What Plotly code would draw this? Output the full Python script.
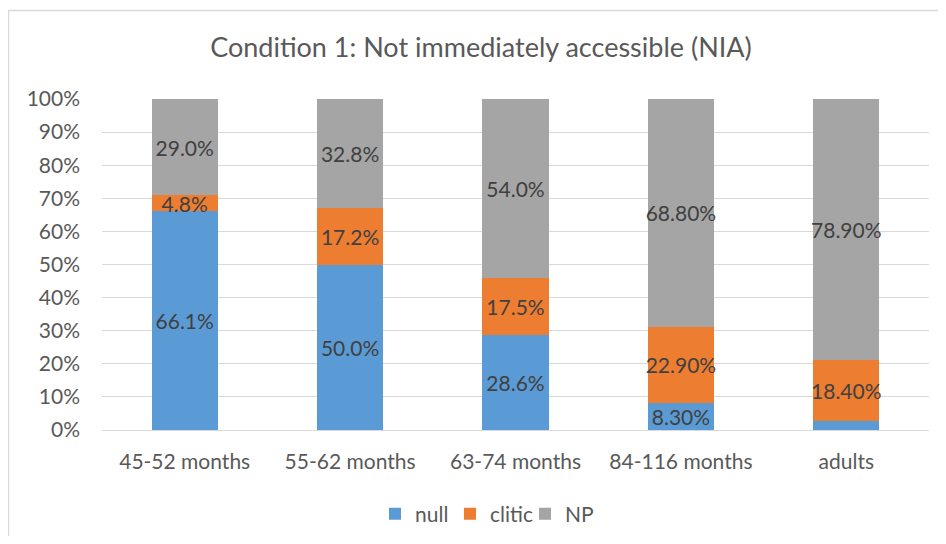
import plotly.graph_objects as go

categories = ["45-52 months", "55-62 months", "63-74 months", "84-116 months", "adults"]
null_vals = [66.1, 50.0, 28.6, 8.3, 2.7]
clitic_vals = [4.8, 17.2, 17.5, 22.9, 18.4]
np_vals = [29.0, 32.8, 54.0, 68.8, 78.9]
null_labels = ["66.1%", "50.0%", "28.6%", "8.30%", ""]
clitic_labels = ["4.8%", "17.2%", "17.5%", "22.90%", "18.40%"]
np_labels = ["29.0%", "32.8%", "54.0%", "68.80%", "78.90%"]
y_ticks = list(range(0, 101, 10))

FONT = "Lato"
OFF = 8  # page body margin
W, H = 946 - 2 * OFF, 544 - 2 * OFF
L = 102 - OFF
T = 99 - OFF
R = W - (929 - OFF)
B = H - (430 - OFF)
pw, ph = W - L - R, H - T - B

fig = go.Figure()
series = [
    ("null", null_vals, null_labels, "#5B9BD5"),
    ("clitic", clitic_vals, clitic_labels, "#ED7D31"),
    ("NP", np_vals, np_labels, "#A5A5A5"),
]
for name, vals, labels, color in series:
    fig.add_trace(go.Bar(
        name=name, x=categories, y=vals, text=labels,
        texttemplate="%{text}", textposition="inside", insidetextanchor="middle",
        textangle=0, constraintext="none",
        textfont=dict(family=FONT, size=21, color="#404040"),
        marker=dict(color=color, line=dict(width=0)),
        width=0.4, cliponaxis=False,
    ))

fig.update_layout(
    width=W, height=H,
    margin=dict(l=L, r=R, t=T, b=B, autoexpand=False),
    barmode="stack", barnorm="percent",
    paper_bgcolor="white", plot_bgcolor="white",
    font=dict(family=FONT, color="#595959"),
    uniformtext=dict(minsize=21, mode="show"),
    title=dict(text="Condition 1: Not immediately accessible (NIA)",
               x=(481 - OFF) / W, xref="container", xanchor="center",
               y=1 - (48 - OFF) / H, yref="container", yanchor="middle",
               font=dict(family=FONT, size=27, color="#595959")),
    showlegend=True,
    legend=dict(orientation="h", x=(375 - 102) / pw, xanchor="left",
                y=1 - (514 - OFF) / H, yref="container", yanchor="middle",
                font=dict(family=FONT, size=21, color="#595959"),
                itemwidth=30, entrywidth=30, entrywidthmode="pixels",
                traceorder="normal"),
    shapes=[dict(type="rect", xref="paper", yref="paper",
                 x0=(8 - 102 + 0.5) / pw, x1=1.2, y0=-0.6, y1=(430 - 10 - 0.5) / ph,
                 line=dict(color="#D9D9D9", width=1.5), layer="below")],
)
fig.update_xaxes(showgrid=False, showline=False, ticks="",
                 tickfont=dict(family=FONT, size=21, color="#595959"),
                 ticklabelstandoff=17)
fig.update_yaxes(range=[0, 100], tickvals=y_ticks, ticktext=[f"{v}%" for v in y_ticks],
                 showgrid=True, gridcolor="#D9D9D9", gridwidth=1,
                 zeroline=True, zerolinecolor="#D9D9D9", zerolinewidth=1,
                 showline=False, ticks="",
                 tickfont=dict(family=FONT, size=21, color="#595959"),
                 ticklabelstandoff=21)

fig.write_html("out.html")
